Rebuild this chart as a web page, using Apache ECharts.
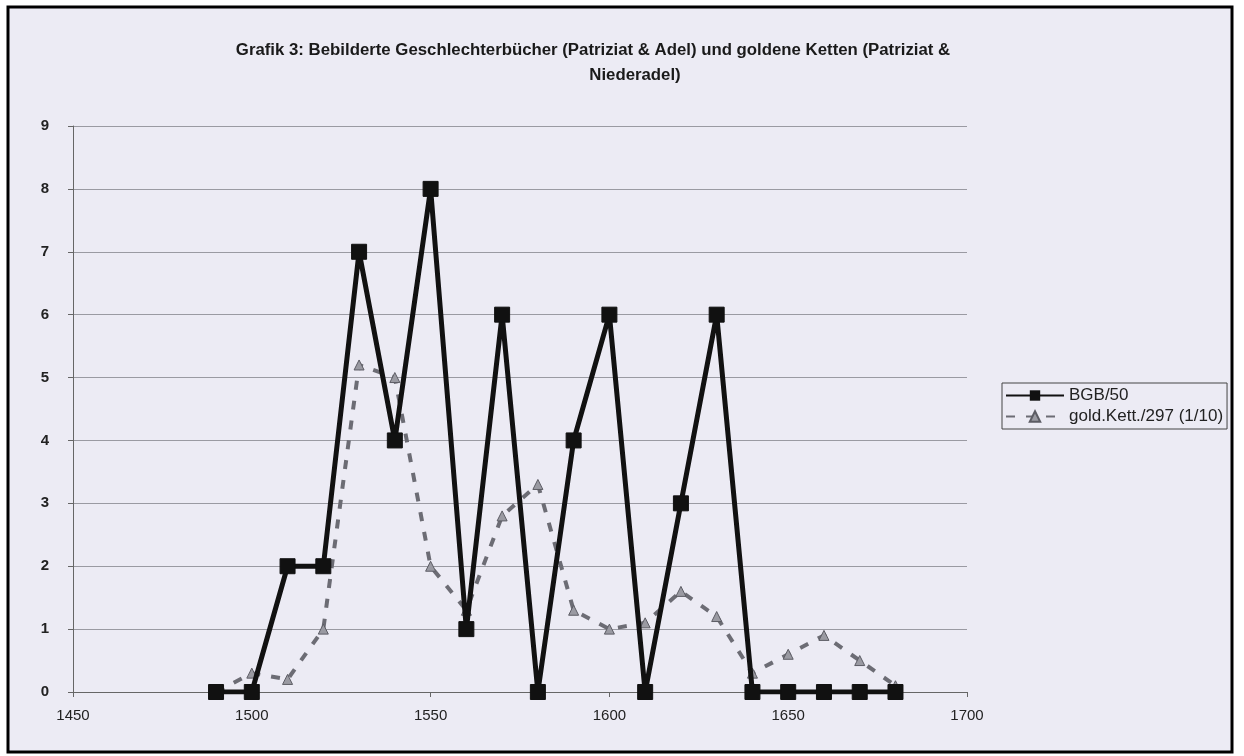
<!DOCTYPE html>
<html>
<head>
<meta charset="utf-8">
<script src="https://cdn.jsdelivr.net/npm/echarts@6/dist/echarts.min.js"></script>
<style>
  html, body { margin: 0; padding: 0; background: #fff; }
  #chart { width: 1244px; height: 756px; }
</style>
</head>
<body>
<div id="chart"></div>
<script>
// Jahrzehnte (x-Werte)
var years = [1490, 1500, 1510, 1520, 1530, 1540, 1550, 1560, 1570, 1580,
             1590, 1600, 1610, 1620, 1630, 1640, 1650, 1660, 1670, 1680];
// BGB/50
var bgbValues = [0, 0, 2, 2, 7, 4, 8, 1, 6, 0,
                 4, 6, 0, 3, 6, 0, 0, 0, 0, 0];
// gold.Kett./297 (1/10)
var kettValues = [0, 0.3, 0.2, 1.0, 5.2, 5.0, 2.0, 1.3, 2.8, 3.3,
                  1.3, 1.0, 1.1, 1.6, 1.2, 0.3, 0.6, 0.9, 0.5, 0.1];
var xTicks = [1450, 1500, 1550, 1600, 1650, 1700];
var yTicks = [0, 1, 2, 3, 4, 5, 6, 7, 8, 9];

var titleLine1 = 'Grafik 3: Bebilderte Geschlechterbücher (Patriziat & Adel) und goldene Ketten (Patriziat &';
var titleLine2 = 'Niederadel)';

function pairs(xs, ys) {
    return xs.map(function (x, i) { return [x, ys[i]]; });
}

var chart = echarts.init(document.getElementById('chart'));

var titleStyle = {
    fontFamily: '"Liberation Sans Narrow", Arial, sans-serif',
    fontWeight: 'bold',
    fontSize: 16.8,
    color: '#1a1a1a'
};

var option = {
    backgroundColor: '#ffffff',
    animation: false,
    graphic: [{
        type: 'rect',
        z: -10,
        silent: true,
        shape: { x: 8, y: 7, width: 1224, height: 745 },
        style: { fill: '#ecebf4', stroke: '#000', lineWidth: 3 }
    }],
    title: [
        { text: titleLine1, left: 588, textAlign: 'center', top: 37, textStyle: titleStyle },
        { text: titleLine2, left: 630, textAlign: 'center', top: 62, textStyle: titleStyle }
    ],
    legend: {
        orient: 'vertical',
        left: 1002,
        top: 383,
        backgroundColor: '#ecebf4',
        borderColor: '#444',
        borderWidth: 1,
        padding: [4, 4, 4, 3],
        itemGap: 4,
        itemWidth: 58,
        itemHeight: 13,
        textStyle: { fontFamily: 'Arial, "Liberation Sans", sans-serif', fontSize: 17, color: '#222' },
        data: ['BGB/50', 'gold.Kett./297 (1/10)']
    },
    grid: { left: 73, right: 277, top: 126, bottom: 64 },
    xAxis: {
        type: 'value',
        min: xTicks[0],
        max: xTicks[xTicks.length - 1],
        interval: 50,
        axisLine: { lineStyle: { color: '#666', width: 1 } },
        axisTick: { show: true, length: 5, lineStyle: { color: '#666' } },
        splitLine: { show: false },
        axisLabel: {
            margin: 16,
            formatter: function (v) { return String(v); },
            fontFamily: 'Arial, "Liberation Sans", sans-serif',
            fontSize: 15,
            color: '#222'
        }
    },
    yAxis: {
        type: 'value',
        min: yTicks[0],
        max: yTicks[yTicks.length - 1],
        interval: 1,
        axisLine: { show: true, lineStyle: { color: '#666', width: 1 } },
        axisTick: { show: true, length: 5, lineStyle: { color: '#666' } },
        splitLine: { lineStyle: { color: '#9a9aa2', width: 1 } },
        axisLabel: {
            margin: 24,
            fontFamily: 'Arial, "Liberation Sans", sans-serif',
            fontWeight: 'bold',
            fontSize: 15,
            color: '#222'
        }
    },
    series: [
        {
            name: 'gold.Kett./297 (1/10)',
            type: 'line',
            data: pairs(years, kettValues),
            symbol: 'triangle',
            symbolSize: 10,
            z: 2,
            lineStyle: { color: '#6c6c74', width: 4, type: [9, 11] },
            itemStyle: { color: '#9a9aa2', borderColor: '#5c5c64', borderWidth: 1 }
        },
        {
            name: 'BGB/50',
            type: 'line',
            data: pairs(years, bgbValues),
            symbol: 'rect',
            symbolSize: 15,
            z: 3,
            lineStyle: { color: '#111', width: 5 },
            itemStyle: { color: '#111', borderColor: '#111' }
        }
    ]
};

chart.setOption(option);
</script>
</body>
</html>
